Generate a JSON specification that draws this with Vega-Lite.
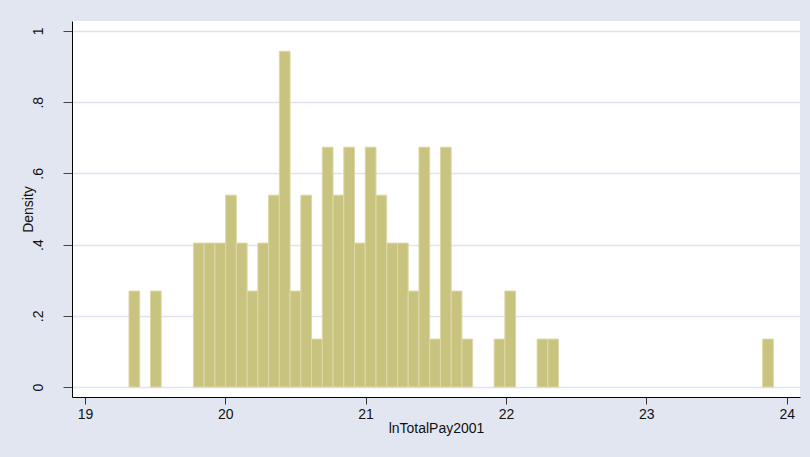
{
  "$schema": "https://vega.github.io/schema/vega-lite/v6.json",
  "autosize": "none",
  "width": 728,
  "height": 376,
  "padding": {"left": 72, "top": 21, "right": 10, "bottom": 60},
  "background": "#e2e6f0",
  "config": {
    "view": {"fill": "white", "stroke": null},
    "font": "Liberation Sans"
  },
  "data": {
    "values": [
      {"start": 19.3140, "end": 19.3905, "density": 0.2695},
      {"start": 19.4670, "end": 19.5435, "density": 0.2695},
      {"start": 19.7731, "end": 19.8496, "density": 0.4042},
      {"start": 19.8496, "end": 19.9262, "density": 0.4042},
      {"start": 19.9262, "end": 20.0027, "density": 0.4042},
      {"start": 20.0027, "end": 20.0792, "density": 0.5389},
      {"start": 20.0792, "end": 20.1557, "density": 0.4042},
      {"start": 20.1557, "end": 20.2322, "density": 0.2695},
      {"start": 20.2322, "end": 20.3088, "density": 0.4042},
      {"start": 20.3088, "end": 20.3853, "density": 0.5389},
      {"start": 20.3853, "end": 20.4618, "density": 0.9431},
      {"start": 20.4618, "end": 20.5383, "density": 0.2695},
      {"start": 20.5383, "end": 20.6148, "density": 0.5389},
      {"start": 20.6148, "end": 20.6914, "density": 0.1347},
      {"start": 20.6914, "end": 20.7679, "density": 0.6736},
      {"start": 20.7679, "end": 20.8444, "density": 0.5389},
      {"start": 20.8444, "end": 20.9209, "density": 0.6736},
      {"start": 20.9209, "end": 20.9974, "density": 0.4042},
      {"start": 20.9974, "end": 21.0740, "density": 0.6736},
      {"start": 21.0740, "end": 21.1505, "density": 0.5389},
      {"start": 21.1505, "end": 21.2270, "density": 0.4042},
      {"start": 21.2270, "end": 21.3035, "density": 0.4042},
      {"start": 21.3035, "end": 21.3800, "density": 0.2695},
      {"start": 21.3800, "end": 21.4566, "density": 0.6736},
      {"start": 21.4566, "end": 21.5331, "density": 0.1347},
      {"start": 21.5331, "end": 21.6096, "density": 0.6736},
      {"start": 21.6096, "end": 21.6861, "density": 0.2695},
      {"start": 21.6861, "end": 21.7626, "density": 0.1347},
      {"start": 21.9157, "end": 21.9922, "density": 0.1347},
      {"start": 21.9922, "end": 22.0687, "density": 0.2695},
      {"start": 22.2218, "end": 22.2983, "density": 0.1347},
      {"start": 22.2983, "end": 22.3748, "density": 0.1347},
      {"start": 23.8287, "end": 23.9052, "density": 0.1347}
    ]
  },
  "mark": {"type": "bar", "fill": "#c9c380", "stroke": "#ddd8a6", "strokeWidth": 1},
  "encoding": {
    "x": {
      "field": "start",
      "type": "quantitative",
      "scale": {"domain": [18.908, 24.095], "nice": false, "zero": false},
      "axis": {
        "title": "lnTotalPay2001",
        "values": [19, 20, 21, 22, 23, 24],
        "format": "d",
        "grid": false,
        "domainColor": "#000000",
        "domainWidth": 1,
        "tickColor": "#333333",
        "tickSize": 7,
        "labelFontSize": 14,
        "labelColor": "#111111",
        "labelPadding": 3,
        "labelFlush": false,
        "titleFontSize": 14,
        "titleFontWeight": "normal",
        "titleColor": "#111111",
        "titlePadding": 0
      }
    },
    "x2": {"field": "end"},
    "y": {
      "field": "density",
      "type": "quantitative",
      "scale": {"domain": [-0.028, 1.028], "nice": false, "zero": false},
      "axis": {
        "title": "Density",
        "values": [0, 0.2, 0.4, 0.6, 0.8, 1],
        "labelExpr": "datum.value == 0 ? '0' : datum.value == 1 ? '1' : replace(format(datum.value, '.1f'), '0.', '.')",
        "grid": true,
        "gridColor": "#dfe4ef",
        "gridWidth": 1.5,
        "domainColor": "#000000",
        "domainWidth": 1,
        "tickColor": "#444444",
        "tickSize": 9,
        "labelAngle": -90,
        "labelAlign": "center",
        "labelBaseline": "bottom",
        "labelFontSize": 14,
        "labelColor": "#111111",
        "labelPadding": 18,
        "labelFlush": false,
        "titleFontSize": 14,
        "titleFontWeight": "normal",
        "titleColor": "#111111",
        "titlePadding": -4
      }
    },
    "y2": {"datum": 0}
  }
}
